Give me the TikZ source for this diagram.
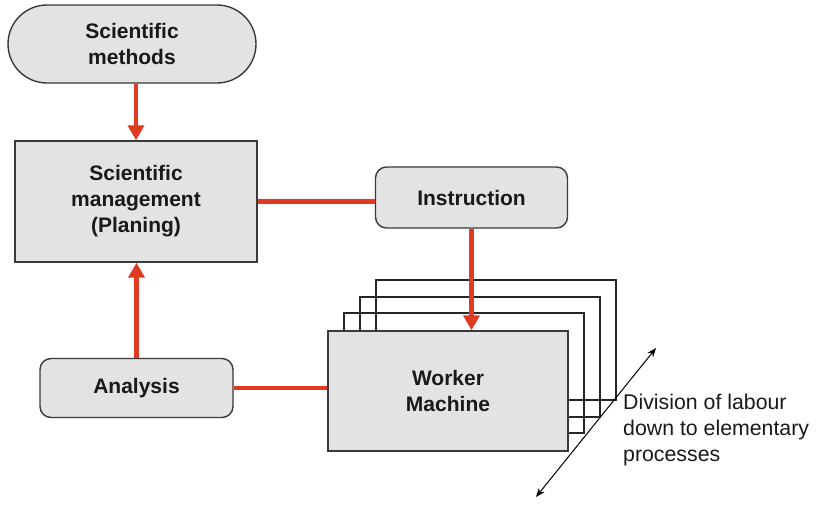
\documentclass[tikz,border=0pt]{standalone}
\usepackage{fontspec}
\setmainfont{Liberation Sans}
\usetikzlibrary{arrows.meta}
\definecolor{boxfill}{HTML}{E3E3E3}
\definecolor{boxline}{HTML}{3A3A3A}
\definecolor{redline}{HTML}{E03A22}
\begin{document}
\begin{tikzpicture}[x=1pt,y=-1pt,
  box/.style={draw=boxline,line width=1.4pt,fill=boxfill,align=center,
    font=\fontsize{21}{26}\selectfont\bfseries,text=black!90,inner sep=0pt},
  backbox/.style={draw=black!85,line width=1.2pt,minimum width=240pt,minimum height=120pt,inner sep=0pt},
  redarrow/.style={draw=redline,line width=4.5pt,-{Triangle[length=15pt,width=16pt]}},
  redlink/.style={draw=redline,line width=4.5pt},
  dbl/.style={draw=black,line width=1pt,{Stealth[length=9pt,width=7pt]}-{Stealth[length=9pt,width=7pt]}}
]
\useasboundingbox (0,0) rectangle (821,504);
% stacked back boxes
\node[backbox] (b3) at (496,340) {};
\node[backbox] (b2) at (480,357) {};
\node[backbox] (b1) at (464,373) {};
% main boxes
\node[box,minimum width=248pt,minimum height=78pt,rounded corners=39pt] (sm) at (132,44) {Scientific\\methods};
\node[box,minimum width=242pt,minimum height=121pt] (mg) at (136,201.5) {Scientific\\management\\(Planing)};
\node[box,minimum width=192pt,minimum height=61pt,rounded corners=11pt] (ins) at (471.5,197.5) {Instruction};
\node[box,minimum width=193pt,minimum height=59pt,rounded corners=11pt] (an) at (136.5,388) {Analysis};
\node[box,minimum width=240pt,minimum height=120pt] (wm) at (448,391) {Worker\\Machine};
% connectors
\draw[redarrow] (sm.south -| mg.north) -- (mg.north);
\draw[redlink] (mg.east) -- (mg.east -| ins.west);
\draw[redarrow] (ins.south) -- (ins.south |- wm.north);
\draw[redarrow] (an.north) -- (an.north |- mg.south);
\draw[redlink] (an.east) -- (an.east -| wm.west);
% division arrow
\coordinate (d1) at (536,497);
\coordinate (d2) at (656,348);
\draw[dbl] (d1) -- (d2);
\node[anchor=north west,align=left,inner sep=0pt,font=\fontsize{21.3}{26}\selectfont,text=black!90] (dv) at (623,394)
  {Division of labour\\down to elementary\\processes};
\end{tikzpicture}
\end{document}
